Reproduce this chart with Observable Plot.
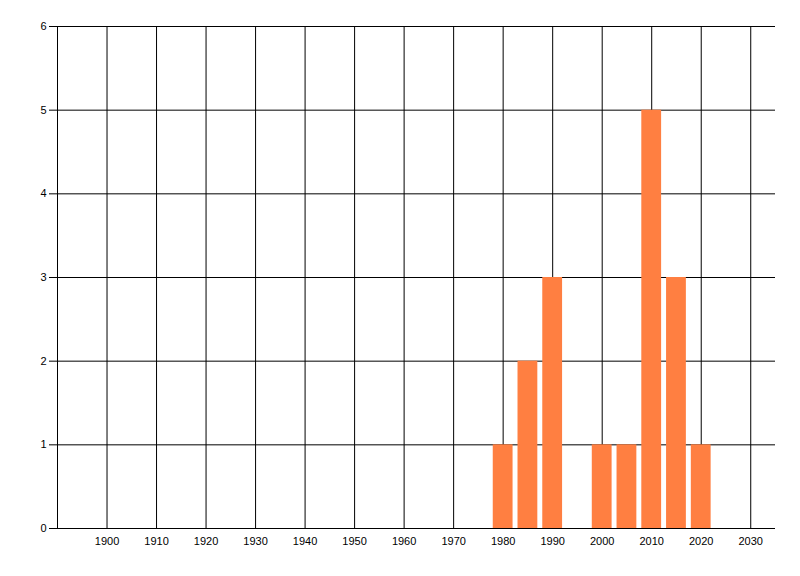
<!DOCTYPE html>
<html>
<head>
<meta charset="utf-8">
<script src="https://cdn.jsdelivr.net/npm/d3@7"></script>
<script src="https://cdn.jsdelivr.net/npm/@observablehq/plot@0.6"></script>
<style>
  body { margin: 0; background: #fff; }
</style>
</head>
<body>
<div id="chart"></div>
<script>
const years = [1980, 1985, 1990, 2000, 2005, 2010, 2015, 2020];
const counts = [1, 2, 3, 1, 1, 5, 3, 1];
const xTicks = [1900, 1910, 1920, 1930, 1940, 1950, 1960, 1970, 1980, 1990, 2000, 2010, 2020, 2030];
const yTicks = [0, 1, 2, 3, 4, 5, 6];

const data = years.map((y, i) => ({year: y, count: counts[i]}));

let chart = Plot.plot({
  width: 800,
  height: 576,
  marginLeft: 57,
  marginTop: 26,
  marginRight: 25,
  marginBottom: 48,
  style: {fontFamily: "Liberation Sans, Arial, sans-serif", fontSize: "11px", color: "black", background: "white"},
  x: {domain: [1890, 2035]},
  y: {domain: [0, 6]},
  marks: [
    Plot.ruleX(xTicks, {stroke: "black"}),
    Plot.ruleY(yTicks, {stroke: "black"}),
    Plot.frame({anchor: "left", stroke: "black"}),
    // bars are 4 years wide, centred on the year
    Plot.rectY(data, {x1: d => d.year - 2, x2: d => d.year + 2, y: "count", fill: "#ff7f41"}),
    Plot.axisY({ticks: yTicks, tickSize: 8, tickPadding: 3, tickFormat: "d", label: null, stroke: "black", fill: "black"}),
    Plot.axisX({ticks: xTicks, tickSize: 0, tickPadding: 9, tickFormat: "d", label: null, fill: "black"})
  ]
});

d3.select("#chart").append(() => chart);
</script>
</body>
</html>
